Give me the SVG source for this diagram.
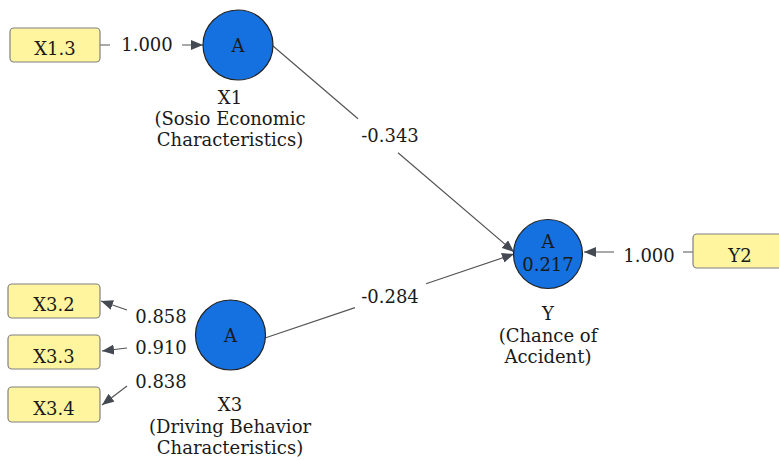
<svg xmlns="http://www.w3.org/2000/svg" width="779" height="461" viewBox="0 0 779 461">
<defs>
<style>
text{font-family:"DejaVu Serif","Liberation Serif",serif;font-size:18px;fill:#1a1a1a;text-anchor:middle}
.ind{fill:#fff59f;stroke:#808080;stroke-width:1.2}
.lat{fill:#1570e0;stroke:#222;stroke-width:1.2}
.ln{fill:none;stroke:#555;stroke-width:1.2}
</style>
<marker id="ah" viewBox="0 0 12 10" refX="12" refY="5" markerWidth="12" markerHeight="10" markerUnits="userSpaceOnUse" orient="auto">
<path d="M0,0 L12,5 L0,10 Z" fill="#454a52"/>
</marker>
</defs>
<rect width="779" height="461" fill="#fff"/>
<g id="connectors">
<path class="ln" d="M100,45 L110,45 M182,45 L203,45" marker-end="url(#ah)"/>
<path class="ln" d="M693,252 L683,252 M614,252 L584,252" marker-end="url(#ah)"/>
<path class="ln" d="M273,46 L358,118.7 M398,152.8 L514,252" marker-end="url(#ah)"/>
<path class="ln" d="M265,338 L355,307.6 M426,283.7 L514,254" marker-end="url(#ah)"/>
<path class="ln" d="M127,310 L101,301" marker-end="url(#ah)"/>
<path class="ln" d="M127,348 L102,351" marker-end="url(#ah)"/>
<path class="ln" d="M127,386 L102,405" marker-end="url(#ah)"/>
<text x="147" y="51">1.000</text>
<text x="649" y="262">1.000</text>
<text x="390" y="142">-0.343</text>
<text x="390" y="303">-0.284</text>
<text x="161" y="323">0.858</text>
<text x="161" y="354">0.910</text>
<text x="161" y="388">0.838</text>
</g>
<g id="X1.3">
<rect class="ind" x="10" y="28" width="90" height="34" rx="4"/>
<text x="55" y="55">X1.3</text>
</g>
<g id="X1">
<circle class="lat" cx="238" cy="45" r="35"/>
<text x="238" y="52">A</text>
<text x="230" y="104">X1</text>
<text x="230" y="125">(Sosio Economic</text>
<text x="230" y="146">Characteristics)</text>
</g>
<g id="Y">
<circle class="lat" cx="548" cy="254" r="34.5"/>
<text x="548" y="248">A</text>
<text x="548" y="271">0.217</text>
<text x="548" y="320">Y</text>
<text x="548" y="342">(Chance of</text>
<text x="548" y="363">Accident)</text>
</g>
<g id="Y2">
<rect class="ind" x="693" y="234" width="92" height="34" rx="4"/>
<text x="740" y="262">Y2</text>
</g>
<g id="X3">
<circle class="lat" cx="230.5" cy="335" r="35"/>
<text x="230.5" y="342">A</text>
<text x="230" y="411">X3</text>
<text x="230" y="433">(Driving Behavior</text>
<text x="230" y="454">Characteristics)</text>
</g>
<g id="X3.2">
<rect class="ind" x="8" y="284" width="92" height="34" rx="4"/>
<text x="54" y="311">X3.2</text>
</g>
<g id="X3.3">
<rect class="ind" x="8" y="335" width="92" height="34" rx="4"/>
<text x="54" y="363">X3.3</text>
</g>
<g id="X3.4">
<rect class="ind" x="8" y="387" width="92" height="35" rx="4"/>
<text x="54" y="415">X3.4</text>
</g>
</svg>
